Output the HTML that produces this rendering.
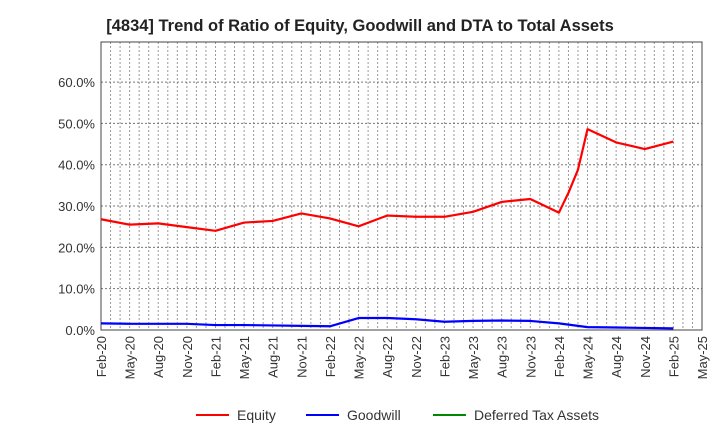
<!DOCTYPE html>
<html><head><meta charset="utf-8"><style>
body{margin:0;background:#fff;font-family:"Liberation Sans",sans-serif}
svg text{font-family:"Liberation Sans",sans-serif}
</style></head><body>
<svg id="c" width="720" height="440">
<text x="360" y="31" text-anchor="middle" font-size="16.5" font-weight="bold" fill="#222">[4834]  Trend of Ratio of Equity, Goodwill and DTA to Total Assets</text>
</svg>
<script>
const xLabels=["Feb-20","May-20","Aug-20","Nov-20","Feb-21","May-21","Aug-21","Nov-21","Feb-22","May-22","Aug-22","Nov-22","Feb-23","May-23","Aug-23","Nov-23","Feb-24","May-24","Aug-24","Nov-24","Feb-25","May-25"];
const yTicks=[0,10,20,30,40,50,60];
const equityMonths=[0,3,6,9,12,15,18,21,24,27,30,33,36,39,42,45,48,49,50,51,54,57,60];
const equity=[26.8,25.5,25.8,24.9,24.0,26.0,26.4,28.2,27.0,25.1,27.7,27.4,27.4,28.6,31.0,31.7,28.4,33.2,38.8,48.6,45.4,43.8,45.6];
const goodwillMonths=[0,3,6,9,12,15,18,21,24,27,30,33,36,39,42,45,48,51,54,57,60];
const goodwill=[1.6,1.5,1.5,1.5,1.2,1.2,1.1,1.0,0.9,2.9,2.9,2.6,2.0,2.2,2.3,2.2,1.6,0.7,0.6,0.5,0.4];
const dtaMonths=[];const dta=[];
const L=101,R=702,T=42,B=330,NM=63,YMAX=69.7;
const xs=m=>L+m*(R-L)/NM, ys=v=>B-v*(B-T)/YMAX;
const svg=document.getElementById('c'),NS='http://www.w3.org/2000/svg';
function mk(t,a,p){const e=document.createElementNS(NS,t);for(const k in a)e.setAttribute(k,a[k]);(p||svg).appendChild(e);return e;}
for(let m=1;m<NM;m++){const l=mk('line',{x1:xs(m),x2:xs(m),y1:T,y2:B,stroke:'#999','stroke-dasharray':'2,2','stroke-width':1});

}
yTicks.forEach(v=>{if(v>0){const l=mk('line',{x1:L,x2:R,y1:ys(v),y2:ys(v),stroke:'#777','stroke-dasharray':'2,2'});

}
const t=mk('text',{x:L-6,y:ys(v)+5,'text-anchor':'end','font-size':13,fill:'#333'});t.textContent=v.toFixed(1)+'%';

});
const fr=mk('rect',{x:L,y:T,width:R-L,height:B-T,fill:'none',stroke:'#444','stroke-width':1});


xLabels.forEach((s,i)=>{const x=xs(i*3);const t=mk('text',{x:0,y:0,'text-anchor':'end','font-size':13,fill:'#333',transform:`translate(${x+5},${B+6}) rotate(-90)`});t.textContent=s;

});
function series(ms,vs,col,name){if(!vs.length)return;const p=mk('polyline',{points:ms.map((m,i)=>xs(m)+','+ys(vs[i])).join(' '),fill:'none',stroke:col,'stroke-width':2.2,'stroke-linejoin':'round'});

}
series(equityMonths,equity,'#f00','equity-line');
series(goodwillMonths,goodwill,'#00f','goodwill-line');
series(dtaMonths,dta,'#080','dta-line');
const leg=[['Equity','#f00',196],['Goodwill','#00f',306],['Deferred Tax Assets','#080',433]];
leg.forEach(([n,c,x])=>{const g=mk('g',{});


mk('line',{x1:x,x2:x+33,y1:415,y2:415,stroke:c,'stroke-width':2},g);
const t=mk('text',{x:x+41,y:420,'font-size':14,fill:'#333'},g);t.textContent=n;});
</script>
</body></html>
